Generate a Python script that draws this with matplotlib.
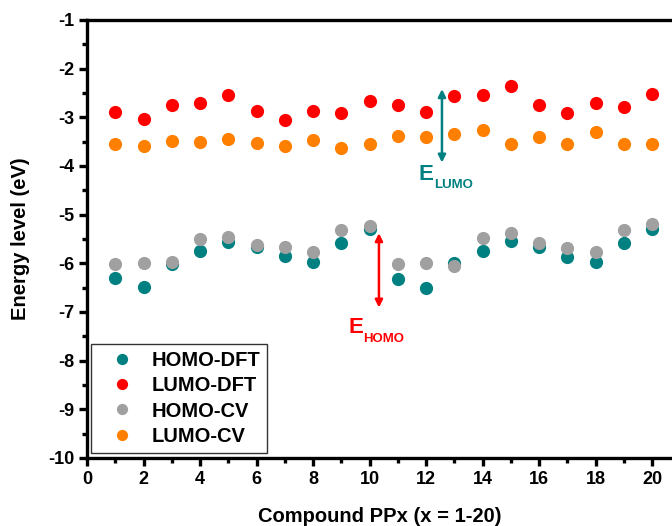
import numpy as np
import matplotlib
matplotlib.use("Agg")
import matplotlib.pyplot as plt
import matplotlib as mpl
from matplotlib.ticker import MultipleLocator

mpl.rcParams["font.family"] = ["Liberation Sans", "DejaVu Sans"]
mpl.rcParams["font.weight"] = "bold"
mpl.rcParams["axes.unicode_minus"] = False

compound = np.arange(1, 21)
homo_dft = [-6.30, -6.49, -6.02, -5.74, -5.56, -5.66, -5.85, -5.98, -5.58, -5.29,
            -6.32, -6.51, -5.99, -5.74, -5.55, -5.66, -5.87, -5.98, -5.58, -5.29]
lumo_dft = [-2.90, -3.03, -2.74, -2.71, -2.54, -2.88, -3.05, -2.86, -2.91, -2.67,
            -2.75, -2.89, -2.57, -2.54, -2.36, -2.74, -2.92, -2.70, -2.79, -2.53]
homo_cv = [-6.02, -6.00, -5.97, -5.51, -5.46, -5.62, -5.66, -5.76, -5.32, -5.24,
           -6.02, -6.00, -6.06, -5.48, -5.37, -5.59, -5.68, -5.76, -5.32, -5.19]
lumo_cv = [-3.54, -3.58, -3.48, -3.51, -3.44, -3.52, -3.58, -3.47, -3.62, -3.54,
           -3.38, -3.40, -3.34, -3.27, -3.54, -3.40, -3.55, -3.31, -3.54, -3.54]

fig = plt.figure(figsize=(6.72, 5.26), dpi=100)
ax = fig.add_axes([87/672, 68/526, 585/672, 438/526])

ms = 9.5
ax.plot(compound, homo_dft, 'o', color='#008080', ms=ms, mec='none', label='HOMO-DFT')
ax.plot(compound, lumo_dft, 'o', color='#FF0000', ms=ms, mec='none', label='LUMO-DFT')
ax.plot(compound, homo_cv, 'o', color='#A0A0A0', ms=ms, mec='none', label='HOMO-CV')
ax.plot(compound, lumo_cv, 'o', color='#FF8000', ms=ms, mec='none', label='LUMO-CV')

# energy arrows + labels
arrow = dict(arrowstyle='<|-|>', lw=1.8, mutation_scale=11, shrinkA=0, shrinkB=0)
ax.annotate('', xy=(12.56, -2.42), xytext=(12.56, -3.93),
            arrowprops=dict(arrow, color='#008080'))
ax.text(11.72, -4.29, 'E', color='#008080', fontsize=16, fontweight='bold', va='baseline')
ax.text(12.28, -4.45, 'LUMO', color='#008080', fontsize=9.5, fontweight='bold', va='baseline')
ax.annotate('', xy=(10.33, -5.38), xytext=(10.33, -6.91),
            arrowprops=dict(arrow, color='#FF0000'))
ax.text(9.24, -7.43, 'E', color='#FF0000', fontsize=16, fontweight='bold', va='baseline')
ax.text(9.77, -7.62, 'HOMO', color='#FF0000', fontsize=9.5, fontweight='bold', va='baseline')

ax.set_xlim(0, 20.7)
ax.set_ylim(-10, -1)
ax.xaxis.set_major_locator(MultipleLocator(2))
ax.xaxis.set_minor_locator(MultipleLocator(1))
ax.yaxis.set_major_locator(MultipleLocator(1))
ax.yaxis.set_minor_locator(MultipleLocator(0.5))
ax.spines['right'].set_visible(False)
for s in ['left', 'bottom', 'top']:
    ax.spines[s].set_linewidth(2.4)
ax.tick_params(which='major', direction='out', length=6, width=2.4, labelsize=13, pad=3)
ax.tick_params(which='minor', direction='out', length=3.5, width=2.4)
for lab in ax.get_xticklabels() + ax.get_yticklabels():
    lab.set_fontweight('bold')

ax.set_xlabel('Compound PPx (x = 1-20)', fontsize=14.5, fontweight='bold', labelpad=14)
ax.set_ylabel('Energy level (eV)', fontsize=14.5, fontweight='bold', labelpad=13)

leg = ax.legend(loc='lower left', bbox_to_anchor=(4/585, 5/438), borderaxespad=0,
                frameon=True, fancybox=False, edgecolor='black', fontsize=14.5,
                handletextpad=0.3, borderpad=0.35, labelspacing=0.32,
                handlelength=2.35, markerscale=0.85)
leg.get_frame().set_linewidth(1.0)
for t in leg.get_texts():
    t.set_fontweight('bold')

fig.savefig('out.png', dpi=100)
